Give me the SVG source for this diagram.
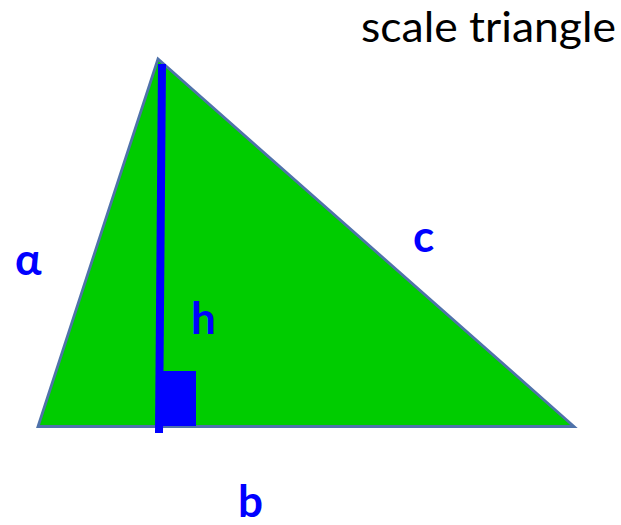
<svg xmlns="http://www.w3.org/2000/svg" width="621" height="525" viewBox="0 0 621 525">
<style>
.lbl{font-family:Lato,"Liberation Sans",sans-serif;font-weight:bold;font-size:44px;fill:#0000FF}
.title{font-family:Lato,"Liberation Sans",sans-serif;font-size:42px;fill:#000}
</style>
<rect width="621" height="525" fill="#fff"/>
<g id="triangle">
<polygon points="158,59 38,426.5 574,426.5" fill="#00CC00" stroke="#4F72AA" stroke-width="2.8" stroke-linejoin="miter"/>
</g>
<g id="height">
<polygon points="158,64 166,64 163,433 155,433" fill="#0000FF"/>
<rect x="160" y="371" width="36" height="55" fill="#0000FF"/>
</g>
<text class="title" x="361" y="42" textLength="255" lengthAdjust="spacingAndGlyphs">scale triangle</text>
<text class="lbl" x="15" y="275">α</text>
<text class="lbl" x="191" y="334">h</text>
<text class="lbl" x="413" y="252">c</text>
<text class="lbl" x="238" y="517">b</text>
</svg>
